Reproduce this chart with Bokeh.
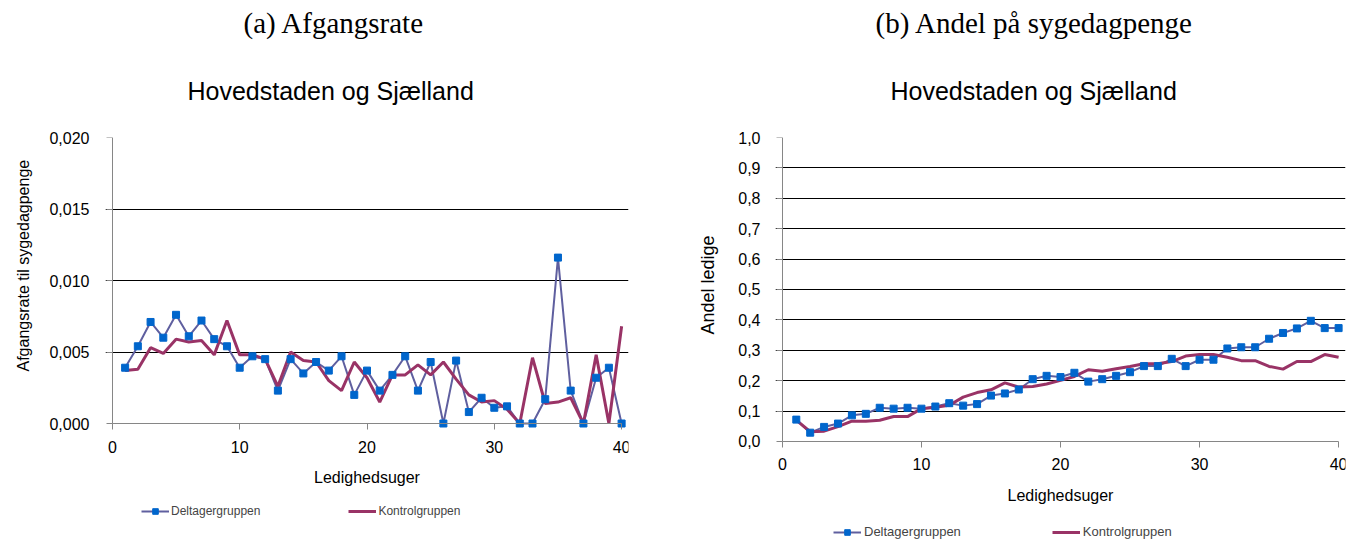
from bokeh.plotting import figure
from bokeh.layouts import row
from bokeh.models import (Legend, LegendItem, Title, FixedTicker, Range1d, LinearAxis,
                          CustomJSTickFormatter)
from bokeh.embed import file_html
from bokeh.resources import INLINE

weeks = list(range(1, 41))
x_ticks = [0, 10, 20, 30, 40]

afgang_deltager = [0.0039, 0.0054, 0.0071, 0.0060, 0.0076, 0.0061, 0.0072, 0.0059, 0.0054, 0.0039,
                   0.0047, 0.0045, 0.0023, 0.0045, 0.0035, 0.0043, 0.0037, 0.0047, 0.0020, 0.0037,
                   0.0023, 0.0034, 0.0047, 0.0023, 0.0043, 0.0000, 0.0044, 0.0008, 0.0018, 0.0011,
                   0.0012, 0.0000, 0.0000, 0.0017, 0.0116, 0.0023, 0.0000, 0.0032, 0.0039, 0.0000]
afgang_kontrol = [0.0037, 0.0038, 0.0053, 0.0049, 0.0059, 0.0057, 0.0058, 0.0048, 0.0072, 0.0048,
                  0.0048, 0.0045, 0.0026, 0.0050, 0.0044, 0.0043, 0.0030, 0.0023, 0.0043, 0.0032,
                  0.0015, 0.0034, 0.0034, 0.0041, 0.0034, 0.0043, 0.0031, 0.0020, 0.0015, 0.0016,
                  0.0010, 0.0000, 0.0046, 0.0014, 0.0015, 0.0018, 0.0000, 0.0048, 0.0000, 0.0068]
afgang_y_ticks = [0.0, 0.005, 0.010, 0.015, 0.020]

andel_deltager = [0.072, 0.029, 0.048, 0.059, 0.086, 0.091, 0.111, 0.108, 0.111, 0.108,
                  0.115, 0.126, 0.118, 0.123, 0.151, 0.158, 0.171, 0.205, 0.216, 0.212,
                  0.226, 0.197, 0.205, 0.216, 0.228, 0.248, 0.248, 0.272, 0.248, 0.269,
                  0.269, 0.306, 0.310, 0.310, 0.338, 0.357, 0.372, 0.397, 0.373, 0.373]
andel_kontrol = [0.070, 0.032, 0.034, 0.049, 0.067, 0.067, 0.070, 0.082, 0.082, 0.108,
                 0.113, 0.119, 0.146, 0.161, 0.170, 0.193, 0.179, 0.181, 0.189, 0.201,
                 0.214, 0.236, 0.231, 0.239, 0.247, 0.256, 0.256, 0.263, 0.281, 0.286,
                 0.286, 0.277, 0.266, 0.266, 0.247, 0.238, 0.263, 0.263, 0.286, 0.277]
andel_y_ticks = [0.0, 0.1, 0.2, 0.3, 0.4, 0.5, 0.6, 0.7, 0.8, 0.9, 1.0]

SANS = "Liberation Sans"
SERIF = "Liberation Serif"
AXIS_GRAY = "#868686"
C_DELT_LINE = "#5F5F9F"
C_DELT_MARK = "#0066CC"
C_KONT = "#993366"

HEIGHT = 543
TOP = 137
PAD = 7  # extra frame width on each side so the end tick labels are not clipped


def style_axis(ax):
    ax.axis_line_color = AXIS_GRAY
    ax.major_tick_line_color = AXIS_GRAY
    ax.major_tick_out = 6
    ax.major_tick_in = 0
    ax.minor_tick_line_color = None
    ax.major_label_text_font = SANS
    ax.major_label_text_font_size = "16px"
    ax.major_label_text_color = "black"
    ax.axis_label_text_font = SANS
    ax.axis_label_text_font_size = "16px"
    ax.axis_label_text_font_style = "normal"
    ax.axis_label_text_color = "black"


def make_panel(panel_title, chart_title, y_label, deltager, kontrol, y_ticks,
               y_start, y_max, decimals, width, border_left, border_right, px_per_week,
               panel_title_x, chart_title_x, y_label_size, y_label_offset,
               y_label_standoff, y_tick_standoff,
               legend_loc, legend_spacing, legend_font, legend_standoff):
    pad = PAD / px_per_week
    p = figure(width=width, height=HEIGHT, output_backend="svg", toolbar_location=None,
               x_range=Range1d(-pad, 40 + pad), y_range=Range1d(y_start, y_max),
               min_border_left=border_left - PAD, min_border_right=border_right - PAD,
               min_border_top=TOP, min_border_bottom=0)
    p.outline_line_color = None
    p.background_fill_color = "white"
    p.border_fill_color = "white"

    t_chart = Title(text=chart_title, text_font=SANS, text_font_size="25px",
                    text_font_style="normal", text_color="black", align="left",
                    vertical_align="middle", standoff=63, offset=chart_title_x + PAD)
    p.add_layout(t_chart, "above")
    t_panel = Title(text=panel_title, text_font=SERIF, text_font_size="29px",
                    text_font_style="normal", text_color="black", align="left",
                    vertical_align="middle", standoff=10, offset=panel_title_x + PAD)
    p.add_layout(t_panel, "above")

    l_d = p.line(weeks, deltager, line_color=C_DELT_LINE, line_width=2)
    l_k = p.line(weeks, kontrol, line_color=C_KONT, line_width=3)
    s_d = p.scatter(weeks, deltager, marker="square", size=7,
                    fill_color=C_DELT_MARK, line_color=C_DELT_MARK)

    style_axis(p.xaxis[0])
    style_axis(p.yaxis[0])

    # x axis drawn at y = 0, spanning weeks 0..40
    p.xaxis.ticker = FixedTicker(ticks=x_ticks)
    p.xaxis.fixed_location = 0
    p.xaxis.bounds = (0, 40)
    p.xaxis.axis_label = "Ledighedsuger"
    p.xaxis.major_label_standoff = 11
    p.xaxis.axis_label_standoff = 13

    # outer y axis carries only the tick labels
    p.yaxis.ticker = FixedTicker(ticks=y_ticks)
    p.yaxis.formatter = CustomJSTickFormatter(
        code="return tick.toFixed(%d).replace('.', ',');" % decimals)
    p.yaxis.axis_line_color = None
    p.yaxis.major_tick_line_color = None
    p.yaxis.major_tick_out = 0
    p.yaxis.major_label_standoff = y_tick_standoff + PAD - 1

    # y-axis title, placed along the value range 0..max
    t_y = Title(text=y_label, text_font=SANS, text_font_size=y_label_size,
                text_font_style="normal", text_color="black", align="left",
                vertical_align="middle", standoff=y_label_standoff, offset=y_label_offset)
    p.add_layout(t_y, "left")

    # axis line and ticks at week 0
    zero_axis = LinearAxis(fixed_location=0, ticker=FixedTicker(ticks=y_ticks),
                           formatter=CustomJSTickFormatter(code="return '';"),
                           bounds=(0, y_max))
    style_axis(zero_axis)
    zero_axis.major_label_standoff = 0
    zero_axis.major_label_text_font_size = "1px"
    p.add_layout(zero_axis, "left")

    p.xgrid.visible = False
    p.ygrid.ticker = FixedTicker(ticks=y_ticks[1:-1])
    p.ygrid.grid_line_color = "black"
    p.ygrid.grid_line_width = 1

    legend = Legend(items=[LegendItem(label="Deltagergruppen", renderers=[l_d, s_d]),
                           LegendItem(label="Kontrolgruppen", renderers=[l_k])],
                    orientation="horizontal",
                    location=(legend_loc[0] + PAD, legend_loc[1]),
                    margin=0, padding=0, spacing=legend_spacing,
                    glyph_width=28, glyph_height=14, label_height=14,
                    label_standoff=legend_standoff,
                    label_text_font=SANS, label_text_font_size=legend_font,
                    border_line_color=None, background_fill_alpha=0)
    p.add_layout(legend, "center")
    return p


# 0 at y=423 and 0,020 at y=137; frame bottom at 543
p1 = make_panel("(a) Afgangsrate", "Hovedstaden og Sjælland", "Afgangsrate til sygedagpenge",
                afgang_deltager, afgang_kontrol, afgang_y_ticks, -0.0083916, 0.020, 3,
                width=680, border_left=103, border_right=59, px_per_week=518 / 40,
                panel_title_x=131, chart_title_x=75,
                y_label_size="16px", y_label_offset=172, y_label_standoff=27,
                y_tick_standoff=10,
                legend_loc=(29, 25), legend_spacing=88, legend_font="12px",
                legend_standoff=2)
# 0 at y=441 and 1,0 at y=137; frame bottom at 543
p2 = make_panel("(b) Andel på sygedagpenge", "Hovedstaden og Sjælland", "Andel ledige",
                andel_deltager, andel_kontrol, andel_y_ticks, -0.33553, 1.0, 1,
                width=682, border_left=93, border_right=24, px_per_week=565 / 40,
                panel_title_x=93, chart_title_x=108,
                y_label_size="18px", y_label_offset=209, y_label_standoff=33,
                y_tick_standoff=9,
                legend_loc=(51, 4), legend_spacing=91, legend_font="13px",
                legend_standoff=3)

layout = row(p1, p2)
open("out.html", "w").write(file_html(layout, INLINE))
